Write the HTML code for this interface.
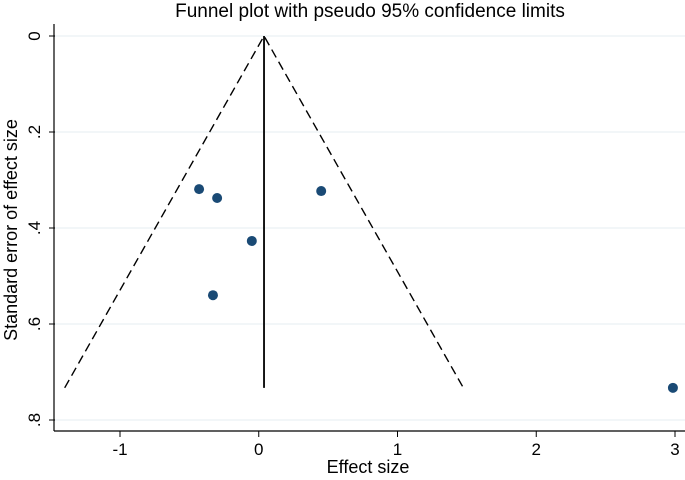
<!DOCTYPE html>
<html><head><meta charset="utf-8"><style>
body{margin:0;background:#fff}
svg{display:block;font-family:"Liberation Sans",sans-serif}
</style></head><body>
<svg width="685" height="480">
<text x="370" y="17" font-size="19" text-anchor="middle">Funnel plot with pseudo 95% confidence limits</text>
<g id="grid"></g>
<g id="axes"></g>
<g id="marks"></g>
<text x="368" y="473" font-size="18" text-anchor="middle">Effect size</text>
<text transform="translate(17,230) rotate(-90)" font-size="18" text-anchor="middle">Standard error of effect size</text>
</svg>
<script>
const xTicks=[-1,0,1,2,3];
const xTickLabels=["-1","0","1","2","3"];
const yTicks=[0,0.2,0.4,0.6,0.8];
const yTickLabels=["0",".2",".4",".6",".8"];
const effectSizes=[-0.43,-0.30,0.45,-0.05,-0.33,2.985];
const standardErrors=[0.319,0.3375,0.323,0.427,0.54,0.733];
const pooledEffect=0.038;
const maxSE=0.733;
const zCrit=1.96;
const NS="http://www.w3.org/2000/svg";
const X=v=>258.75+v*138.75, Y=v=>36+v*480;
function mk(t,a,p){const e=document.createElementNS(NS,t);for(const k in a)e.setAttribute(k,a[k]);p.appendChild(e);return e;}
const grid=document.getElementById('grid'),axes=document.getElementById('axes'),marks=document.getElementById('marks');
yTicks.forEach((v,i)=>{
 const g=mk('line',{x1:55,x2:685,y1:Y(v),y2:Y(v),stroke:'#eaf0f3','stroke-width':1.2},grid);
 
 
 const t=mk('line',{x1:49,x2:55,y1:Y(v),y2:Y(v),stroke:'#000'},axes);
 
 
 const l=mk('text',{transform:`translate(40,${Y(v)}) rotate(-90)`,'font-size':17,'text-anchor':'middle'},axes);
 l.textContent=yTickLabels[i];
 
 
});
xTicks.forEach((v,i)=>{
 const t=mk('line',{x1:X(v),x2:X(v),y1:431,y2:437,stroke:'#000'},axes);
 
 
 const l=mk('text',{x:X(v),y:455,'font-size':17,'text-anchor':'middle'},axes);
 l.textContent=xTickLabels[i];
 
 
});
const ya=mk('line',{x1:54,x2:54,y1:24,y2:431,stroke:'#000','stroke-width':1.2},axes);


const xa=mk('line',{x1:54,x2:685,y1:431,y2:431,stroke:'#000','stroke-width':1.2},axes);


const f=mk('polyline',{points:`${X(pooledEffect-zCrit*maxSE)},${Y(maxSE)} ${X(pooledEffect)},${Y(0)} ${X(pooledEffect+zCrit*maxSE)},${Y(maxSE)}`,fill:'none',stroke:'#000','stroke-width':1.4,'stroke-dasharray':'9,5'},marks);


const vl=mk('line',{x1:X(pooledEffect),x2:X(pooledEffect),y1:Y(0),y2:Y(maxSE),stroke:'#000','stroke-width':1.8},marks);


effectSizes.forEach((v,i)=>{
 const c=mk('circle',{cx:X(v),cy:Y(standardErrors[i]),r:5,fill:'#1a4a75'},marks);
 
 
});
</script>
</body></html>
